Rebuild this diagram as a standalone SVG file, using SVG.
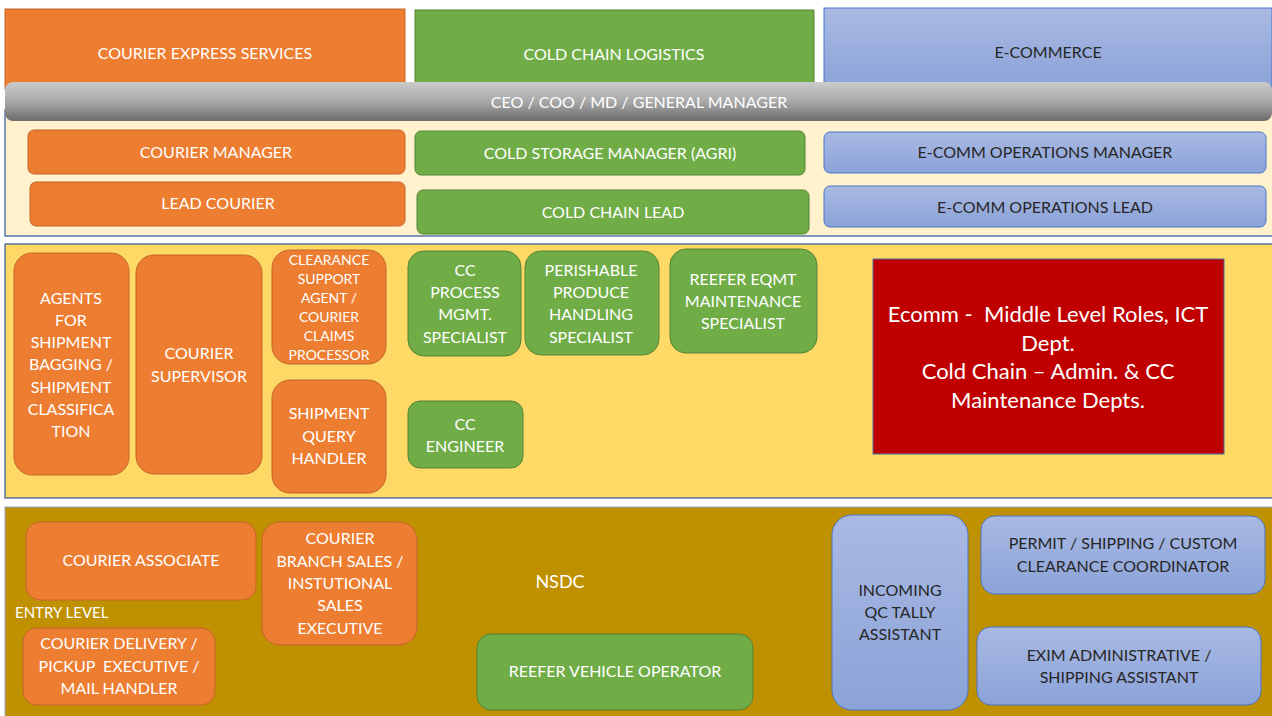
<svg xmlns="http://www.w3.org/2000/svg" width="1272" height="716" viewBox="0 0 1272 716">
  <defs>
    <linearGradient id="gBlue" x1="0" y1="0" x2="0" y2="1">
      <stop offset="0" stop-color="#A9B9E3"/>
      <stop offset="1" stop-color="#8BA3D8"/>
    </linearGradient>
    <linearGradient id="gGray" x1="0" y1="0" x2="0" y2="1">
      <stop offset="0" stop-color="#CBCBCB"/>
      <stop offset="0.5" stop-color="#A9A9A9"/>
      <stop offset="1" stop-color="#6B6B6B"/>
    </linearGradient>
    <style>
      text { font-family: Lato, "Open Sans", "Liberation Sans", sans-serif; text-anchor: middle; dominant-baseline: central; transform: translateY(-1px); }
      .w { fill: #FFFFFF; }
      .d { fill: #262626; }
      .f16 { font-size: 16px; }
      .f15 { font-size: 15px; }
      .f14 { font-size: 14px; }
      .f22 { font-size: 22px; }
      .or { fill: #ED7D31; stroke: #C4652A; stroke-width: 1; }
      .gr { fill: #70AD47; stroke: #548235; stroke-width: 1; }
      .bl { fill: url(#gBlue); stroke: #4A76C6; stroke-width: 1; }
      .panel { stroke: #2F5597; stroke-width: 1.2; }
    </style>
  </defs>

  <rect width="1272" height="716" fill="#FFFFFF"/>

  <!-- sector headers -->
  <g id="hdr-courier">
    <rect x="5" y="9" width="400" height="80" fill="#ED7D31" stroke="#C4652A"/>
    <text class="w f16" x="205" y="53">COURIER EXPRESS SERVICES</text>
  </g>
  <g id="hdr-coldchain">
    <rect x="415" y="10" width="399" height="79" fill="#70AD47" stroke="#548235"/>
    <text class="w f16" x="614" y="54">COLD CHAIN LOGISTICS</text>
  </g>
  <g id="hdr-ecommerce">
    <rect x="824" y="8" width="448" height="81" fill="url(#gBlue)" stroke="#4A76C6"/>
    <text class="d f16" x="1048" y="52">E-COMMERCE</text>
  </g>

  <!-- band panels -->
  <rect class="panel" x="5" y="110" width="1270" height="126" fill="#FFF2CC"/>
  <rect class="panel" x="5" y="244" width="1270" height="254" fill="#FFD966"/>
  <rect x="5" y="507" width="1270" height="212" fill="#BF9000" stroke="#8FA8C8" stroke-width="1"/>

  <!-- top executive bar -->
  <g id="ceo">
    <rect x="5" y="82" width="1267" height="39" rx="8" fill="url(#gGray)"/>
    <text class="w f16" x="639" y="102">CEO / COO / MD / GENERAL MANAGER</text>
  </g>

  <!-- management rows -->
  <g id="courier-manager">
    <rect class="or" x="28" y="130" width="377" height="44" rx="6"/>
    <text class="w f16" x="216" y="152">COURIER MANAGER</text>
  </g>
  <g id="lead-courier">
    <rect class="or" x="30" y="182" width="375" height="44" rx="6"/>
    <text class="w f16" x="218" y="203">LEAD COURIER</text>
  </g>
  <g id="cold-storage-manager">
    <rect class="gr" x="415" y="131" width="390" height="44" rx="6"/>
    <text class="w f16" x="610" y="153">COLD STORAGE MANAGER (AGRI)</text>
  </g>
  <g id="cold-chain-lead">
    <rect class="gr" x="417" y="190" width="392" height="44" rx="6"/>
    <text class="w f16" x="613" y="212">COLD CHAIN LEAD</text>
  </g>
  <g id="ecomm-ops-manager">
    <rect class="bl" x="824" y="132" width="442" height="41" rx="6"/>
    <text class="d f16" x="1045" y="152">E-COMM OPERATIONS MANAGER</text>
  </g>
  <g id="ecomm-ops-lead">
    <rect class="bl" x="824" y="186" width="442" height="41" rx="6"/>
    <text class="d f16" x="1045" y="207">E-COMM OPERATIONS LEAD</text>
  </g>

  <!-- middle band roles -->
  <g id="agents-bagging">
    <rect class="or" x="14" y="253" width="115" height="222" rx="18"/>
    <text class="w f16" x="71" y="298">AGENTS</text>
    <text class="w f16" x="71" y="320">FOR</text>
    <text class="w f16" x="71" y="342">SHIPMENT</text>
    <text class="w f16" x="71" y="364">BAGGING /</text>
    <text class="w f16" x="71" y="387">SHIPMENT</text>
    <text class="w f16" x="71" y="409">CLASSIFICA</text>
    <text class="w f16" x="71" y="431">TION</text>
  </g>
  <g id="courier-supervisor">
    <rect class="or" x="136" y="255" width="126" height="219" rx="18"/>
    <text class="w f16" x="199" y="353">COURIER</text>
    <text class="w f16" x="199" y="376">SUPERVISOR</text>
  </g>
  <g id="clearance-support">
    <rect class="or" x="272" y="250" width="114" height="114" rx="18"/>
    <text class="w f14" x="329" y="260">CLEARANCE</text>
    <text class="w f14" x="329" y="279">SUPPORT</text>
    <text class="w f14" x="329" y="298">AGENT /</text>
    <text class="w f14" x="329" y="317">COURIER</text>
    <text class="w f14" x="329" y="336">CLAIMS</text>
    <text class="w f14" x="329" y="355">PROCESSOR</text>
  </g>
  <g id="shipment-query">
    <rect class="or" x="272" y="380" width="114" height="113" rx="18"/>
    <text class="w f16" x="329" y="413">SHIPMENT</text>
    <text class="w f16" x="329" y="436">QUERY</text>
    <text class="w f16" x="329" y="458">HANDLER</text>
  </g>
  <g id="cc-process">
    <rect class="gr" x="408" y="251" width="113" height="105" rx="16"/>
    <text class="w f16" x="465" y="270">CC</text>
    <text class="w f16" x="465" y="292">PROCESS</text>
    <text class="w f16" x="465" y="314">MGMT.</text>
    <text class="w f16" x="465" y="337">SPECIALIST</text>
  </g>
  <g id="perishable-produce">
    <rect class="gr" x="525" y="251" width="134" height="104" rx="16"/>
    <text class="w f16" x="591" y="270">PERISHABLE</text>
    <text class="w f16" x="591" y="292">PRODUCE</text>
    <text class="w f16" x="591" y="314">HANDLING</text>
    <text class="w f16" x="591" y="337">SPECIALIST</text>
  </g>
  <g id="reefer-eqmt">
    <rect class="gr" x="670" y="249" width="147" height="104" rx="16"/>
    <text class="w f16" x="743" y="279">REEFER EQMT</text>
    <text class="w f16" x="743" y="301">MAINTENANCE</text>
    <text class="w f16" x="743" y="323">SPECIALIST</text>
  </g>
  <g id="cc-engineer">
    <rect class="gr" x="408" y="401" width="115" height="67" rx="12"/>
    <text class="w f16" x="465" y="424">CC</text>
    <text class="w f16" x="465" y="446">ENGINEER</text>
  </g>
  <g id="middle-level-note">
    <rect x="873" y="259" width="351" height="195" fill="#C00000" stroke="#4A6FA5" stroke-width="1"/>
    <text class="w f22" x="1048" y="314" xml:space="preserve">Ecomm -  Middle Level Roles, ICT</text>
    <text class="w f22" x="1048" y="343">Dept.</text>
    <text class="w f22" x="1048" y="371">Cold Chain – Admin. &amp; CC</text>
    <text class="w f22" x="1048" y="400">Maintenance Depts.</text>
  </g>

  <!-- entry level band roles -->
  <g id="courier-associate">
    <rect class="or" x="26" y="522" width="230" height="78" rx="14"/>
    <text class="w f16" x="141" y="560">COURIER ASSOCIATE</text>
  </g>
  <g id="courier-branch-sales">
    <rect class="or" x="262" y="522" width="155" height="123" rx="18"/>
    <text class="w f16" x="340" y="538">COURIER</text>
    <text class="w f16" x="340" y="561">BRANCH SALES /</text>
    <text class="w f16" x="340" y="583">INSTUTIONAL</text>
    <text class="w f16" x="340" y="605">SALES</text>
    <text class="w f16" x="340" y="628">EXECUTIVE</text>
  </g>
  <g id="entry-level-label">
    <text class="w f15" x="15" y="613" style="text-anchor:start">ENTRY LEVEL</text>
  </g>
  <g id="courier-delivery">
    <rect class="or" x="23" y="628" width="192" height="77" rx="14"/>
    <text class="w f16" x="119" y="643">COURIER DELIVERY /</text>
    <text class="w f16" x="119" y="666" xml:space="preserve">PICKUP  EXECUTIVE /</text>
    <text class="w f16" x="119" y="688">MAIL HANDLER</text>
  </g>
  <g id="nsdc-label">
    <text class="w" x="560" y="582" style="font-size:18px">NSDC</text>
  </g>
  <g id="reefer-vehicle-operator">
    <rect class="gr" x="477" y="634" width="276" height="76" rx="14"/>
    <text class="w f16" x="615" y="671">REEFER VEHICLE OPERATOR</text>
  </g>
  <g id="incoming-qc-tally">
    <rect class="bl" x="832" y="515" width="136" height="195" rx="20"/>
    <text class="d f16" x="900" y="590">INCOMING</text>
    <text class="d f16" x="900" y="612">QC TALLY</text>
    <text class="d f16" x="900" y="634">ASSISTANT</text>
  </g>
  <g id="permit-clearance">
    <rect class="bl" x="981" y="516" width="284" height="78" rx="14"/>
    <text class="d f16" x="1123" y="543">PERMIT / SHIPPING / CUSTOM</text>
    <text class="d f16" x="1123" y="566">CLEARANCE COORDINATOR</text>
  </g>
  <g id="exim-admin">
    <rect class="bl" x="977" y="627" width="284" height="78" rx="14"/>
    <text class="d f16" x="1119" y="655">EXIM ADMINISTRATIVE /</text>
    <text class="d f16" x="1119" y="677">SHIPPING ASSISTANT</text>
  </g>

  <!-- no connectors in this chart -->
  <g id="connectors"/>
</svg>
